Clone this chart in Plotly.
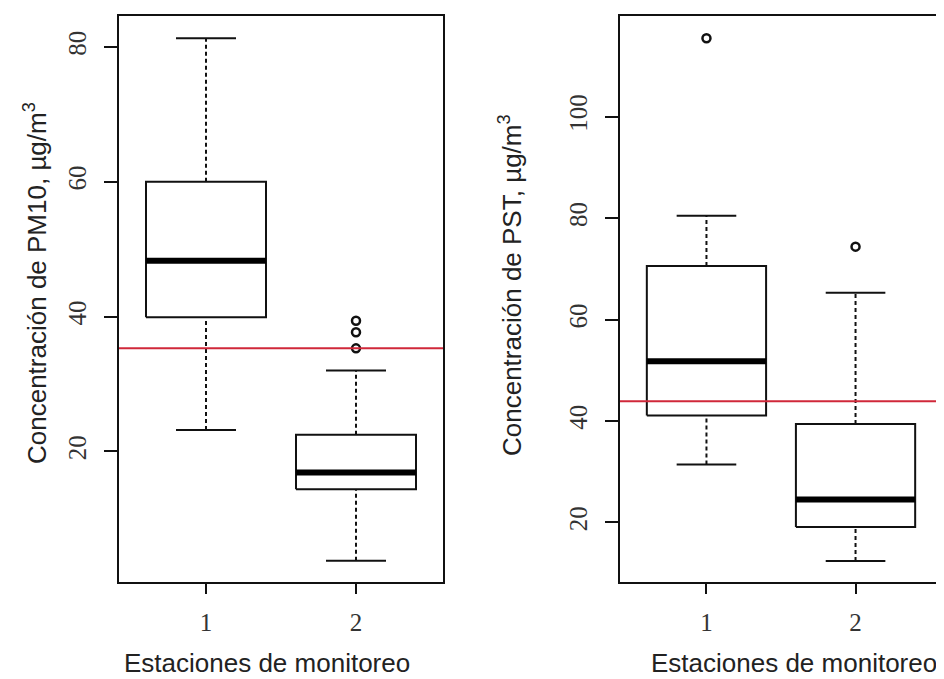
import plotly.graph_objects as go

# ---------------- data ----------------
stations = [1, 2]
tick_labels = ["1", "2"]

pm10_lower = [23.2, 3.8]
pm10_q1 = [39.9, 14.4]
pm10_median = [48.3, 16.9]
pm10_q3 = [60.0, 22.5]
pm10_upper = [81.3, 32.0]
pm10_out_x = [2, 2, 2]
pm10_out_y = [39.4, 37.7, 35.3]
pm10_ref = 35.3

pst_lower = [31.4, 12.4]
pst_q1 = [41.1, 19.1]
pst_median = [51.8, 24.5]
pst_q3 = [70.6, 39.4]
pst_upper = [80.5, 65.3]
pst_out_x = [1, 2]
pst_out_y = [115.5, 74.4]
pst_ref = 43.9

# ---------------- style ----------------
BOX_W = 0.8
CAP_W = 0.4
INK = "#111111"
RED = "#d0283a"
OFF = 8                      # page body margin of the html page
W, H = 944 - OFF, 679 - OFF  # figure size so the page fits the window


def px_x(p):
    return (p - OFF) / W


def px_y(p):
    return 1 - (p - OFF) / H


def box_traces(lower, q1, med, q3, upper, ox, oy, xa, ya):
    bx, by, mx, my, wx, wy, cx, cy = [], [], [], [], [], [], [], []
    for s, lo, a, m, b, up in zip(stations, lower, q1, med, q3, upper):
        h = BOX_W / 2
        bx += [s - h, s + h, s + h, s - h, s - h, None]
        by += [a, a, b, b, a, None]
        mx += [s - h, s + h, None]
        my += [m, m, None]
        wx += [s, s, None, s, s, None]
        wy += [lo, a, None, b, up, None]
        c = CAP_W / 2
        cx += [s - c, s + c, None, s - c, s + c, None]
        cy += [lo, lo, None, up, up, None]
    common = dict(xaxis=xa, yaxis=ya, showlegend=False, hoverinfo="skip", mode="lines")
    return [
        go.Scatter(x=wx, y=wy, line=dict(color=INK, width=2, dash="4px,3px"), **common),
        go.Scatter(x=cx, y=cy, line=dict(color=INK, width=2), **common),
        go.Scatter(x=bx, y=by, line=dict(color=INK, width=2), fill="toself",
                   fillcolor="white", **common),
        go.Scatter(x=mx, y=my, line=dict(color="black", width=6), **common),
        go.Scatter(x=ox, y=oy, xaxis=xa, yaxis=ya, mode="markers", showlegend=False,
                   hoverinfo="skip",
                   marker=dict(symbol="circle-open", size=8, color=INK,
                               line=dict(width=2.5, color=INK))),
    ]


fig = go.Figure()
for t in box_traces(pm10_lower, pm10_q1, pm10_median, pm10_q3, pm10_upper,
                    pm10_out_x, pm10_out_y, "x", "y"):
    fig.add_trace(t)
for t in box_traces(pst_lower, pst_q1, pst_median, pst_q3, pst_upper,
                    pst_out_x, pst_out_y, "x2", "y2"):
    fig.add_trace(t)

fig.add_shape(type="line", xref="x domain", yref="y", x0=0, x1=1,
              y0=pm10_ref, y1=pm10_ref, line=dict(color=RED, width=2), layer="above")
fig.add_shape(type="line", xref="x2 domain", yref="y2", x0=0, x1=1,
              y0=pst_ref, y1=pst_ref, line=dict(color=RED, width=2), layer="above")

tickfont = dict(family="Liberation Serif, Times New Roman, serif", size=25, color="#333333")
axis_common = dict(showline=True, mirror=True, linecolor=INK, linewidth=2,
                   showgrid=False, zeroline=False, ticks="outside", tickcolor=INK,
                   tickwidth=2, tickfont=tickfont)

xdom1 = [px_x(119), px_x(443)]
xdom2 = [px_x(620), px_x(942)]
ydom = [px_y(582), px_y(16)]

fig.update_layout(
    width=W, height=H,
    margin=dict(l=0, r=0, t=0, b=0),
    paper_bgcolor="white", plot_bgcolor="white",
    xaxis=dict(domain=xdom1, range=[0.42, 2.58], tickvals=stations, ticktext=tick_labels,
               ticklen=10, ticklabelstandoff=7, anchor="y", **axis_common),
    yaxis=dict(domain=ydom, range=[0.64, 84.6], tickvals=[20, 40, 60, 80],
               tickangle=-90, ticklen=13, ticklabelstandoff=8, anchor="x", **axis_common),
    xaxis2=dict(domain=xdom2, range=[0.42, 2.58], tickvals=stations, ticktext=tick_labels,
                ticklen=10, ticklabelstandoff=7, anchor="y2", **axis_common),
    yaxis2=dict(domain=ydom, range=[8.24, 119.9], tickvals=[20, 40, 60, 80, 100],
                tickangle=-90, ticklen=13, ticklabelstandoff=8, anchor="x2", **axis_common),
)

titlefont = dict(family="Liberation Sans, Arial, sans-serif", size=26, color="#222222")
fig.add_annotation(text="Concentración de PM10, µg/m<sup>3</sup>", textangle=-90,
                   xref="paper", yref="paper", x=px_x(35), y=px_y(283),
                   xanchor="center", yanchor="middle", showarrow=False, font=titlefont)
fig.add_annotation(text="Concentración de PST, µg/m<sup>3</sup>", textangle=-90,
                   xref="paper", yref="paper", x=px_x(511), y=px_y(285),
                   xanchor="center", yanchor="middle", showarrow=False, font=titlefont)
fig.add_annotation(text="Estaciones de monitoreo", xref="paper", yref="paper",
                   x=px_x(267), y=0, xanchor="center", yanchor="bottom", yshift=-1,
                   showarrow=False, font=titlefont)
fig.add_annotation(text="Estaciones de monitoreo", xref="paper", yref="paper",
                   x=px_x(794), y=0, xanchor="center", yanchor="bottom", yshift=-1,
                   showarrow=False, font=titlefont)

fig.write_html("out.html")
